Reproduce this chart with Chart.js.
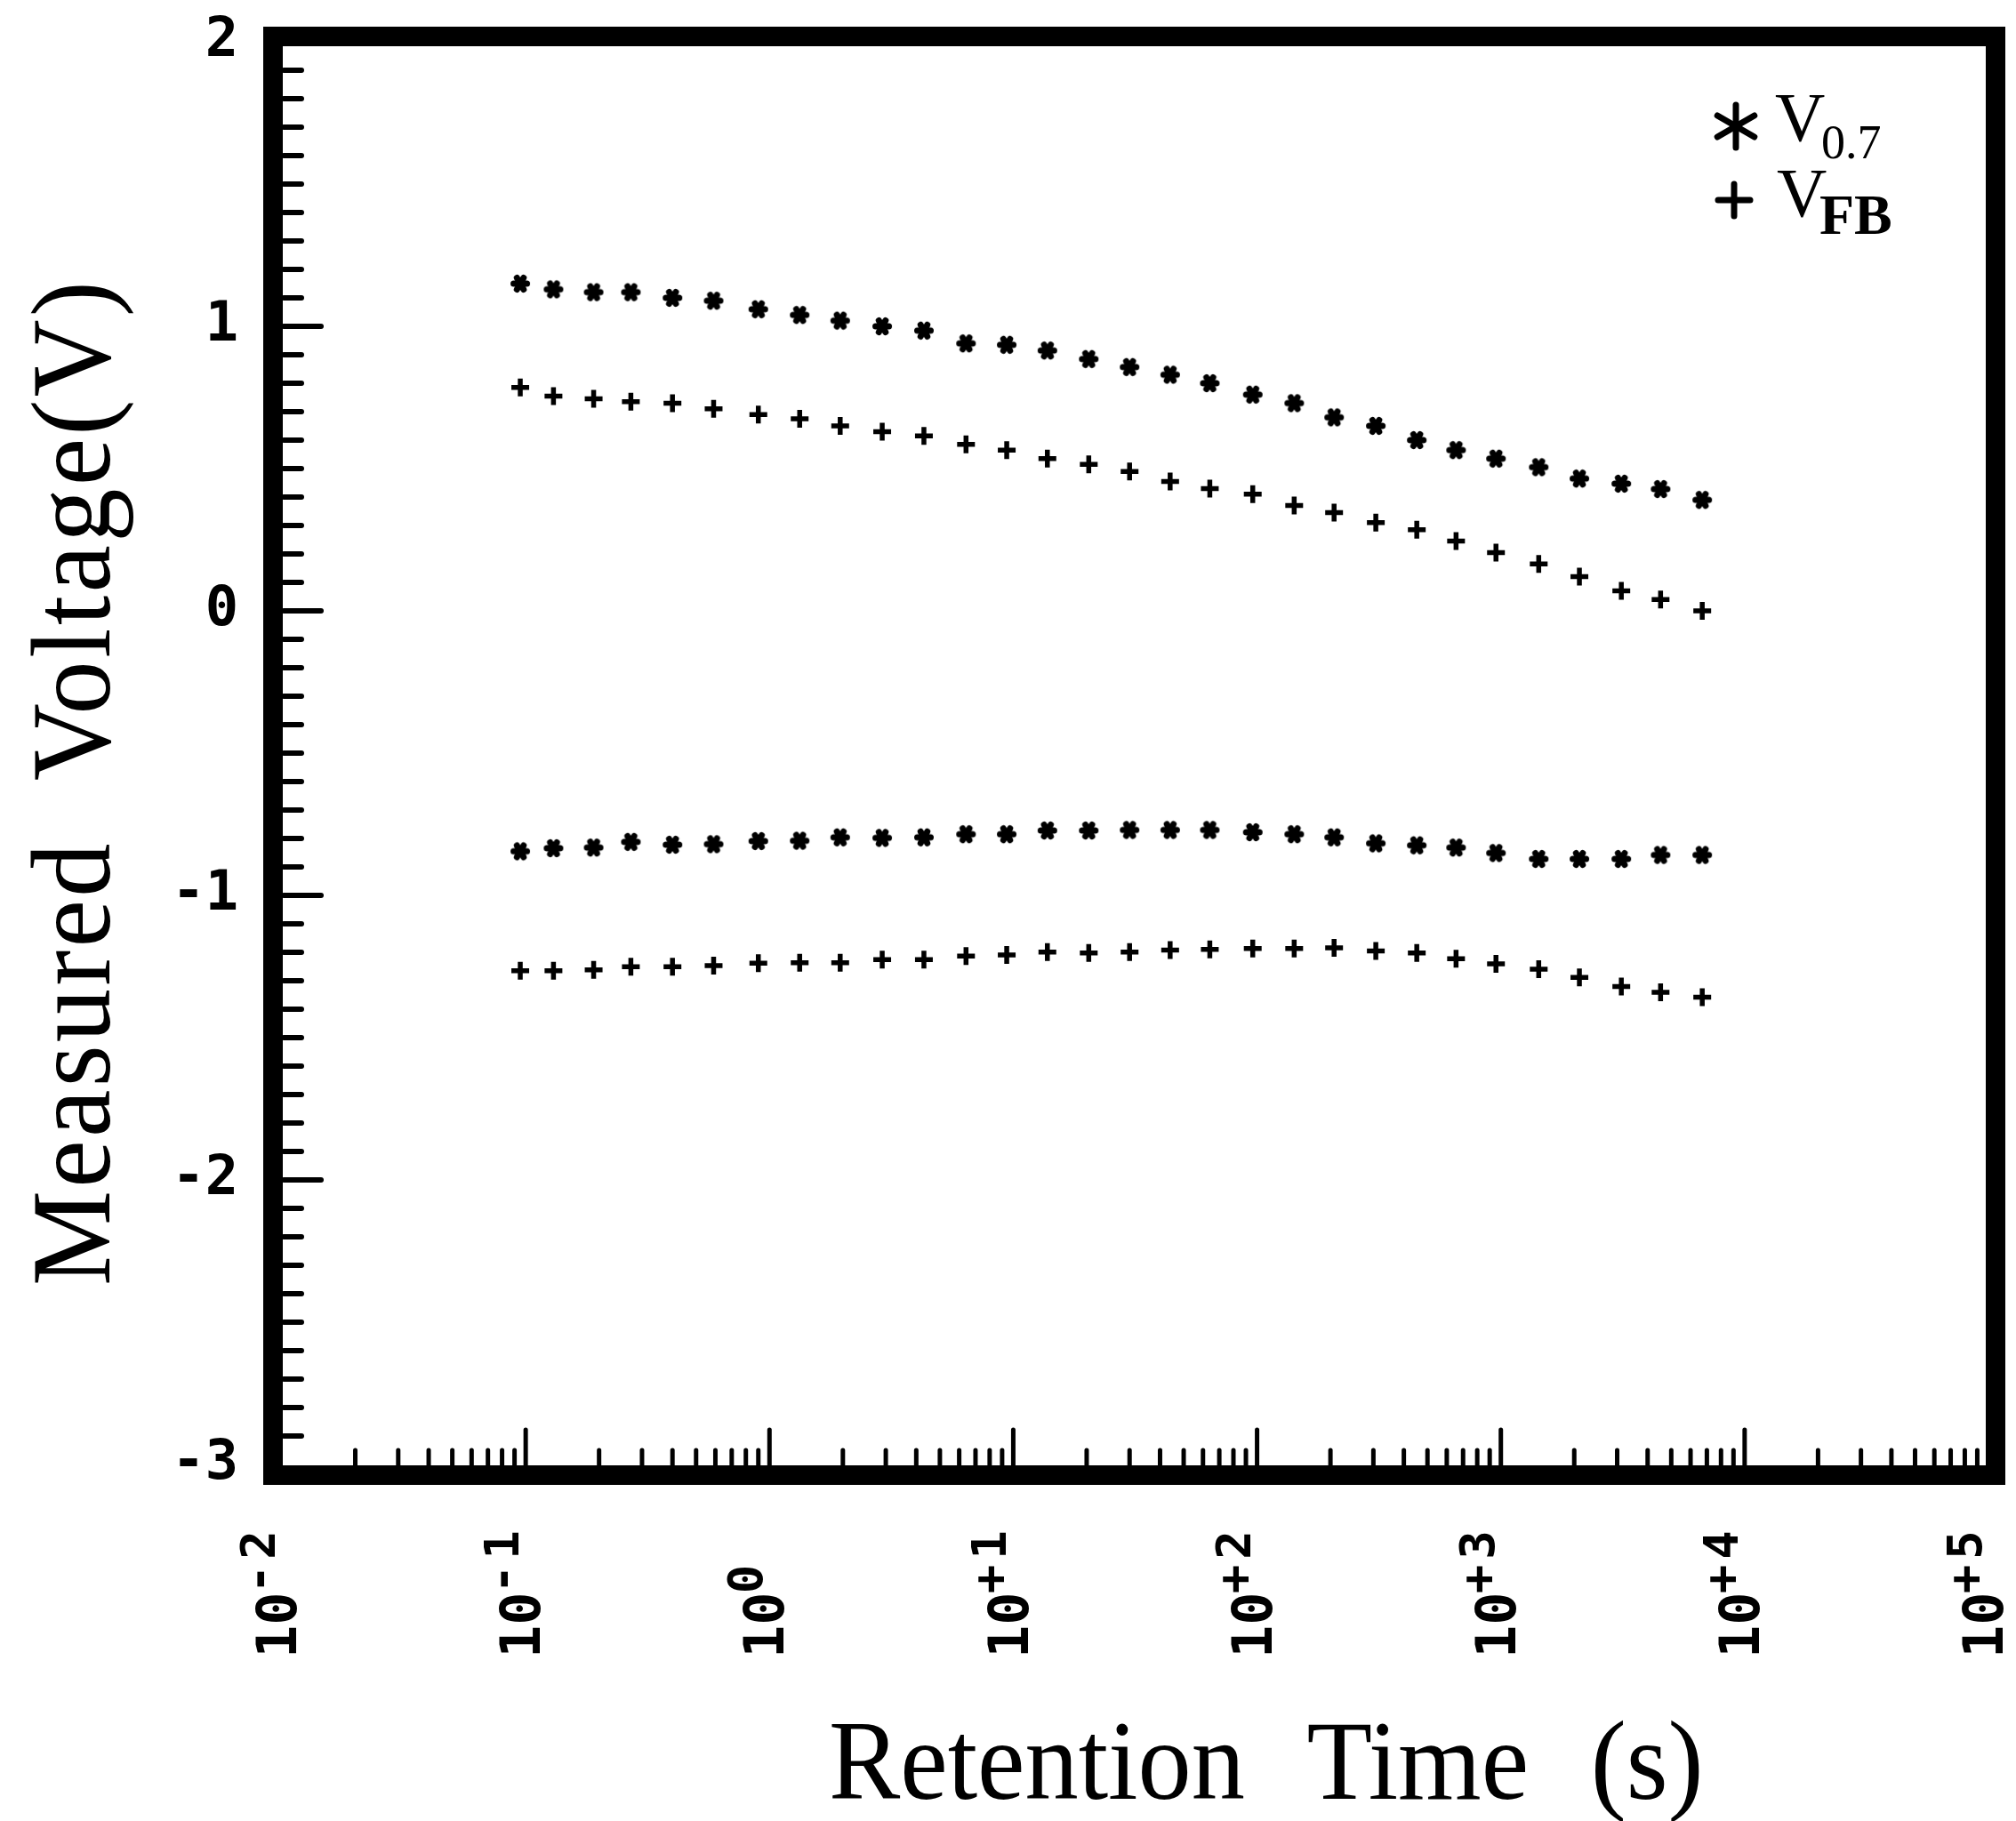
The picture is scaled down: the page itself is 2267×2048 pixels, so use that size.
<!DOCTYPE html>
<html>
<head>
<meta charset="utf-8">
<script src="https://cdn.jsdelivr.net/npm/chart.js@4.4.0/dist/chart.umd.min.js"></script>
<style>
  html, body { margin: 0; padding: 0; background: #fff; }
  canvas { display: block; }
</style>
</head>
<body>
<canvas id="retentionChart" width="2267" height="2048"></canvas>
<script>
// --- DATA ---
const retentionTime = [0.095, 0.13, 0.19, 0.27, 0.40, 0.59, 0.90, 1.33, 1.95, 2.9,
                       4.3, 6.4, 9.4, 13.8, 20.4, 30, 44, 64, 96, 142,
                       207, 307, 452, 655, 955, 1430, 2100, 3120, 4520, 6700];

// upper branch
const v07Upper = [1.15, 1.13, 1.12, 1.12, 1.10, 1.09, 1.06, 1.04, 1.02, 1.00,
                  0.985, 0.94, 0.935, 0.915, 0.885, 0.857, 0.83, 0.80, 0.76, 0.73,
                  0.68, 0.65, 0.60, 0.565, 0.535, 0.505, 0.465, 0.447, 0.428, 0.39];
const vfbUpper = [0.785, 0.755, 0.745, 0.735, 0.73, 0.71, 0.69, 0.675, 0.65, 0.63,
                  0.615, 0.585, 0.565, 0.535, 0.515, 0.49, 0.455, 0.43, 0.41, 0.37,
                  0.345, 0.31, 0.285, 0.245, 0.205, 0.165, 0.12, 0.07, 0.04, 0.0];

// lower branch
const v07Lower = [-0.845, -0.834, -0.832, -0.812, -0.822, -0.82, -0.809, -0.808, -0.796, -0.798,
                  -0.796, -0.785, -0.785, -0.772, -0.772, -0.77, -0.77, -0.77, -0.778, -0.785,
                  -0.796, -0.817, -0.824, -0.832, -0.851, -0.872, -0.872, -0.872, -0.858, -0.858];
const vfbLower = [-1.265, -1.265, -1.262, -1.251, -1.251, -1.247, -1.238, -1.237, -1.237, -1.226,
                  -1.226, -1.213, -1.209, -1.199, -1.202, -1.199, -1.192, -1.19, -1.187, -1.187,
                  -1.184, -1.195, -1.202, -1.223, -1.241, -1.259, -1.288, -1.32, -1.341, -1.358];

// axis ticks
const xDecades = [-2, -1, 0, 1, 2, 3, 4, 5];
const yTickValues = [2, 1, 0, -1, -2, -3];

const toPoints = (ys) => ys.map((v, i) => ({ x: retentionTime[i], y: v }));

const TICK_FONT = '"DejaVu Sans Mono", monospace';
const SERIF = '"Liberation Serif", "Times New Roman", serif';

// bold six-armed plotter asterisk used as the V0.7 marker
function makeStar(size, arm, width) {
    const c = document.createElement('canvas');
    c.width = size; c.height = size;
    const g = c.getContext('2d');
    g.strokeStyle = '#000';
    g.lineWidth = width;
    g.lineCap = 'round';
    const m = size / 2;
    [0, 60, 120].forEach(a => {
        const t = a * Math.PI / 180;
        g.beginPath();
        g.moveTo(m - arm * Math.cos(t), m - arm * Math.sin(t));
        g.lineTo(m + arm * Math.cos(t), m + arm * Math.sin(t));
        g.stroke();
    });
    return c;
}
const starMarker = makeStar(28, 7.5, 7);

// --- plotter-style frame, ticks, labels and legend ---
const plotterFrame = {
    id: 'plotterFrame',
    beforeDraw(chart) {
        const ctx = chart.ctx;
        ctx.save();
        ctx.fillStyle = '#fff';
        ctx.fillRect(0, 0, chart.width, chart.height);
        ctx.restore();
    },
    afterDatasetsDraw(chart) {
        const { ctx, chartArea: a, scales: { x, y } } = chart;
        ctx.save();
        ctx.strokeStyle = '#000';
        ctx.fillStyle = '#000';

        // heavy frame
        ctx.lineWidth = 22;
        ctx.lineJoin = 'miter';
        ctx.strokeRect(a.left - 10, a.top - 6, (a.right + 8) - (a.left - 10), (a.bottom + 12) - (a.top - 6));

        // y ticks, every 0.1 V
        ctx.lineWidth = 6;
        ctx.lineCap = 'round';
        for (let i = -29; i <= 19; i++) {
            const py = y.getPixelForValue(i / 10);
            const len = (i % 10 === 0) ? 42 : 20;
            ctx.beginPath();
            ctx.moveTo(a.left + 2, py);
            ctx.lineTo(a.left + 2 + len, py);
            ctx.stroke();
        }

        // x ticks, 1..9 per decade
        ctx.lineWidth = 5;
        const base = a.bottom + 1;
        for (let d = -2; d <= 4; d++) {
            for (let k = 1; k <= 9; k++) {
                if (d === -2 && k === 1) continue;
                const px = x.getPixelForValue(k * Math.pow(10, d));
                const len = (k === 1) ? 40 : 17;
                ctx.beginPath();
                ctx.moveTo(px, base);
                ctx.lineTo(px, base - len);
                ctx.stroke();
            }
        }

        // y tick labels
        ctx.font = 'bold 62px ' + TICK_FONT;
        ctx.textAlign = 'right';
        ctx.textBaseline = 'middle';
        yTickValues.forEach(v => {
            ctx.fillText(String(v), 268, y.getPixelForValue(v));
        });

        // x tick labels, rotated, 10 with raised exponent
        xDecades.forEach(e => {
            const px = x.getPixelForValue(Math.pow(10, e));
            const exp = e < 0 ? '-' + (-e) : (e === 0 ? '0' : '+' + e);
            ctx.save();
            ctx.translate(px, 1865);
            ctx.rotate(-Math.PI / 2);
            ctx.textAlign = 'left';
            ctx.textBaseline = 'middle';
            ctx.font = 'bold 62px ' + TICK_FONT;
            ctx.fillText('10', 0, 0);
            const w = ctx.measureText('10').width;
            ctx.font = 'bold 54px ' + TICK_FONT;
            ctx.letterSpacing = '6px';
            ctx.fillText(exp, w - 2, -22);
            ctx.letterSpacing = '0px';
            ctx.restore();
        });

        // axis titles
        ctx.textAlign = 'left';
        ctx.textBaseline = 'alphabetic';
        ctx.font = '128px ' + SERIF;
        ctx.wordSpacing = '42px';
        ctx.save();
        ctx.translate(932, 2023);
        ctx.scale(0.94, 1);
        ctx.fillText('Retention Time (s)', 0, 0);
        ctx.restore();

        ctx.save();
        ctx.translate(123, 1446);
        ctx.rotate(-Math.PI / 2);
        ctx.scale(0.94, 1);
        ctx.wordSpacing = '36px';
        ctx.letterSpacing = '3.5px';
        ctx.fillText('Measured Voltage(V)', 0, 0);
        ctx.restore();
        ctx.wordSpacing = '0px';
        ctx.letterSpacing = '0px';

        // legend
        ctx.lineWidth = 7;
        ctx.lineCap = 'round';
        const sx = 1952, sy = 142, r = 24;
        for (let ang of [90, 30, -30]) {
            const t = ang * Math.PI / 180;
            ctx.beginPath();
            ctx.moveTo(sx - r * Math.cos(t), sy - r * Math.sin(t));
            ctx.lineTo(sx + r * Math.cos(t), sy + r * Math.sin(t));
            ctx.stroke();
        }
        const cx = 1950, cy = 225, rp = 18;
        ctx.beginPath();
        ctx.moveTo(cx - rp, cy); ctx.lineTo(cx + rp, cy);
        ctx.moveTo(cx, cy - rp); ctx.lineTo(cx, cy + rp);
        ctx.stroke();

        ctx.font = '78px ' + SERIF;
        ctx.fillText('V', 1996, 158);
        ctx.fillText('V', 1998, 243);
        ctx.font = '54px ' + SERIF;
        ctx.fillText('0.7', 2048, 178);
        ctx.font = 'bold 64px ' + SERIF;
        ctx.fillText('FB', 2046, 263);

        ctx.restore();
    }
};

const ctxChart = document.getElementById('retentionChart').getContext('2d');
new Chart(ctxChart, {
    type: 'scatter',
    data: {
        datasets: [
            { label: 'V0.7', data: toPoints(v07Upper), pointStyle: starMarker, radius: 14,
              borderColor: '#000', backgroundColor: '#000' },
            { label: 'VFB', data: toPoints(vfbUpper), pointStyle: 'cross', radius: 10, borderWidth: 5.5,
              borderColor: '#000', backgroundColor: '#000' },
            { label: 'V0.7', data: toPoints(v07Lower), pointStyle: starMarker, radius: 14,
              borderColor: '#000', backgroundColor: '#000' },
            { label: 'VFB', data: toPoints(vfbLower), pointStyle: 'cross', radius: 10, borderWidth: 5.5,
              borderColor: '#000', backgroundColor: '#000' }
        ]
    },
    options: {
        responsive: false,
        animation: false,
        layout: { padding: { left: 317, right: 31, top: 47, bottom: 401 } },
        plugins: {
            legend: { display: false },
            tooltip: { enabled: false }
        },
        scales: {
            x: { type: 'logarithmic', min: 0.01, max: 100000, display: false },
            y: { type: 'linear', min: -3, max: 2, display: false }
        }
    },
    plugins: [plotterFrame]
});
</script>
</body>
</html>
